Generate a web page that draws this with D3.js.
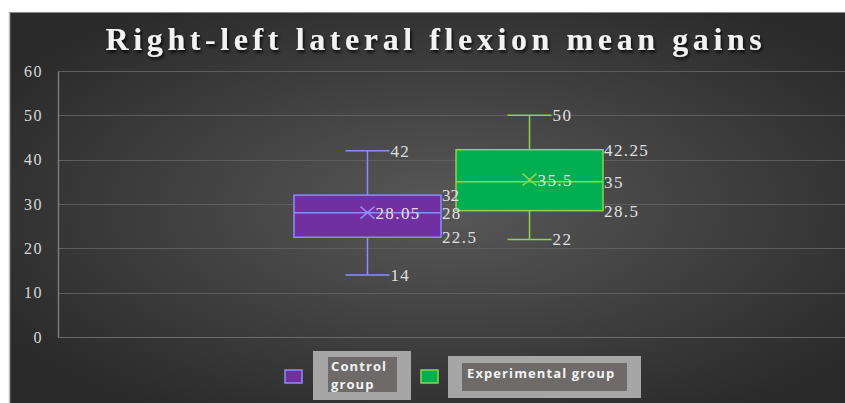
<!DOCTYPE html>
<html>
<head>
<meta charset="utf-8">
<script src="https://cdn.jsdelivr.net/npm/d3@7"></script>
<style>
  html, body { margin: 0; padding: 0; background: #fff; }
  svg { display: block; }
</style>
</head>
<body>
<div id="chart"></div>
<script>
// values
const series = ['Control group', 'Experimental group'];
const minVals = [14, 22];
const q1Vals = [22.5, 28.5];
const medianVals = [28, 35];
const q3Vals = [32, 42.25];
const maxVals = [42, 50];
const meanVals = [28.05, 35.5];
const yTicks = [0, 10, 20, 30, 40, 50, 60];
const legendLines = [['Control', 'group'], ['Experimental group']];

const fills = ['#7030a0', '#00b050'];
const strokes = ['#8c8cff', '#92d050'];

const width = 845, height = 403;
const margin = { left: 58, right: 0, top: 71, bottom: 66 };
const plotRight = width - margin.right;
const plotBottom = height - margin.bottom;

const svg = d3.select('#chart').append('svg')
    .attr('width', width)
    .attr('height', height);

const defs = svg.append('defs');
const grad = defs.append('radialGradient')
    .attr('id', 'bg')
    .attr('cx', '52%').attr('cy', '50%').attr('r', '62%');
grad.append('stop').attr('offset', '0%').attr('stop-color', '#585858');
grad.append('stop').attr('offset', '100%').attr('stop-color', '#2a2a2a');

const shadow = defs.append('filter').attr('id', 'shadow')
    .attr('x', '-5%').attr('y', '-30%').attr('width', '110%').attr('height', '160%');
shadow.append('feDropShadow')
    .attr('dx', 1.5).attr('dy', 2.5).attr('stdDeviation', 1.5)
    .attr('flood-color', '#000').attr('flood-opacity', 0.8);

// panel
svg.append('rect')
    .attr('x', 9).attr('y', 12)
    .attr('width', width - 9).attr('height', height - 12)
    .attr('fill', 'url(#bg)');
svg.append('line')
    .attr('x1', 9.5).attr('x2', 9.5).attr('y1', 12).attr('y2', height)
    .attr('stroke', '#bdbdbd').attr('stroke-width', 1.5);
svg.append('line')
    .attr('x1', 9).attr('x2', width).attr('y1', 12.5).attr('y2', 12.5)
    .attr('stroke', '#8a8a8a').attr('stroke-width', 1);

// title
svg.append('text')
    .attr('x', 436).attr('y', 50)
    .attr('text-anchor', 'middle')
    .attr('font-family', '"Liberation Serif", "Times New Roman", serif')
    .attr('font-weight', 'bold')
    .attr('font-size', 32)
    .attr('letter-spacing', 4.6)
    .attr('fill', '#f2f2f2')
    .attr('filter', 'url(#shadow)')
    .text('Right-left lateral flexion mean gains');

const yScale = d3.scaleLinear()
    .domain([0, 60])
    .range([plotBottom, margin.top]);

// one category, two series side by side
const groupCenter = 448.5, groupWidth = 309;
const xScale = d3.scaleBand()
    .domain(series)
    .range([groupCenter - groupWidth / 2, groupCenter + groupWidth / 2])
    .paddingInner(0.093);

// gridlines
svg.append('g').attr('class', 'grid')
    .selectAll('line')
    .data(yTicks)
    .join('line')
    .attr('x1', margin.left).attr('x2', plotRight)
    .attr('y1', d => Math.round(yScale(d)) + 0.5)
    .attr('y2', d => Math.round(yScale(d)) + 0.5)
    .attr('stroke', d => d === 0 ? '#6a6a6a' : '#5e5e5e')
    .attr('stroke-width', 1);

// y axis
const yAxis = d3.axisLeft(yScale).tickValues(yTicks).tickSize(0).tickPadding(15);
const yAxisGroup = svg.append('g')
    .attr('class', 'y-axis')
    .attr('transform', `translate(${margin.left}, 0)`)
    .call(yAxis);
yAxisGroup.select('.domain').attr('stroke', '#7a7a7a').attr('stroke-width', 1.5);
yAxisGroup.selectAll('text')
    .attr('font-family', '"Liberation Serif", "Times New Roman", serif')
    .attr('font-size', 16)
    .attr('letter-spacing', 1.5)
    .attr('fill', '#d9d9d9');

// boxes
const labelFont = '"Liberation Serif", "Times New Roman", serif';
const capHalf = 22;
const boxes = svg.append('g').attr('class', 'boxes')
    .selectAll('g')
    .data(series)
    .join('g');
const labelLayer = svg.append('g').attr('class', 'labels');

boxes.each(function (name, i) {
    const g = d3.select(this);
    const x0 = xScale(name);
    const bw = xScale.bandwidth();
    const cx = x0 + bw / 2;

    // whiskers
    g.append('line')
        .attr('x1', cx).attr('x2', cx)
        .attr('y1', yScale(maxVals[i])).attr('y2', yScale(q3Vals[i]))
        .attr('stroke', strokes[i]).attr('stroke-width', 1.5);
    g.append('line')
        .attr('x1', cx).attr('x2', cx)
        .attr('y1', yScale(q1Vals[i])).attr('y2', yScale(minVals[i]))
        .attr('stroke', strokes[i]).attr('stroke-width', 1.5);
    [maxVals[i], minVals[i]].forEach(v => {
        g.append('line')
            .attr('x1', cx - capHalf).attr('x2', cx + capHalf)
            .attr('y1', yScale(v)).attr('y2', yScale(v))
            .attr('stroke', strokes[i]).attr('stroke-width', 1.5);
    });

    // box
    g.append('rect')
        .attr('x', x0).attr('width', bw)
        .attr('y', yScale(q3Vals[i]))
        .attr('height', yScale(q1Vals[i]) - yScale(q3Vals[i]))
        .attr('fill', fills[i])
        .attr('stroke', strokes[i]).attr('stroke-width', 1.5);
    g.append('line')
        .attr('x1', x0).attr('x2', x0 + bw)
        .attr('y1', yScale(medianVals[i])).attr('y2', yScale(medianVals[i]))
        .attr('stroke', strokes[i]).attr('stroke-width', 1.5);

    // mean marker
    const my = yScale(meanVals[i]);
    g.append('path')
        .attr('d', `M${cx - 7},${my - 6}L${cx + 7},${my + 6}M${cx - 7},${my + 6}L${cx + 7},${my - 6}`)
        .attr('stroke', strokes[i]).attr('stroke-width', 1.5).attr('fill', 'none');

    // data labels, drawn above every box
    const labels = [
        { v: maxVals[i], x: cx + capHalf + 1 },
        { v: minVals[i], x: cx + capHalf + 1 },
        { v: q3Vals[i], x: x0 + bw + 1 },
        { v: medianVals[i], x: x0 + bw + 1 },
        { v: q1Vals[i], x: x0 + bw + 1 },
        { v: meanVals[i], x: cx + 8 }
    ];
    labelLayer.append('g')
        .selectAll('text')
        .data(labels)
        .join('text')
        .attr('x', d => d.x)
        .attr('y', d => yScale(d.v))
        .attr('dy', '0.35em')
        .attr('font-family', labelFont)
        .attr('font-size', 17)
        .attr('letter-spacing', d => d.v === q3Vals[0] && i === 0 ? 0 : 1.4)
        .attr('fill', '#e0e0e0')
        .text(d => d.v);
});

// legend
const legendItems = [
    { sq: [285, 370], outer: [313, 351, 98, 49], inner: [328, 357, 69, 35], text: [331, 371] },
    { sq: [421, 370], outer: [448, 356, 193, 42], inner: [462, 363, 165, 28], text: [467, 378] }
];
const legend = svg.append('g').attr('class', 'legend')
    .selectAll('g')
    .data(series)
    .join('g');
legend.each(function (name, i) {
    const g = d3.select(this);
    const it = legendItems[i];
    g.append('rect')
        .attr('x', it.sq[0]).attr('y', it.sq[1])
        .attr('width', 17).attr('height', 13)
        .attr('fill', fills[i]).attr('stroke', strokes[i]).attr('stroke-width', 1.5);
    g.append('rect')
        .attr('x', it.outer[0]).attr('y', it.outer[1])
        .attr('width', it.outer[2]).attr('height', it.outer[3])
        .attr('fill', '#a6a6a6');
    g.append('rect')
        .attr('x', it.inner[0]).attr('y', it.inner[1])
        .attr('width', it.inner[2]).attr('height', it.inner[3])
        .attr('fill', '#6e6a6a');
    legendLines[i].forEach((line, k) => {
        g.append('text')
            .attr('x', it.text[0])
            .attr('y', it.text[1] + k * 18)
            .attr('font-family', '"Open Sans", "Liberation Sans", sans-serif')
            .attr('font-weight', 'bold')
            .attr('font-size', 13)
            .attr('letter-spacing', 1.1)
            .attr('fill', '#f2f2f2')
            .text(line);
    });
});
</script>
</body>
</html>
